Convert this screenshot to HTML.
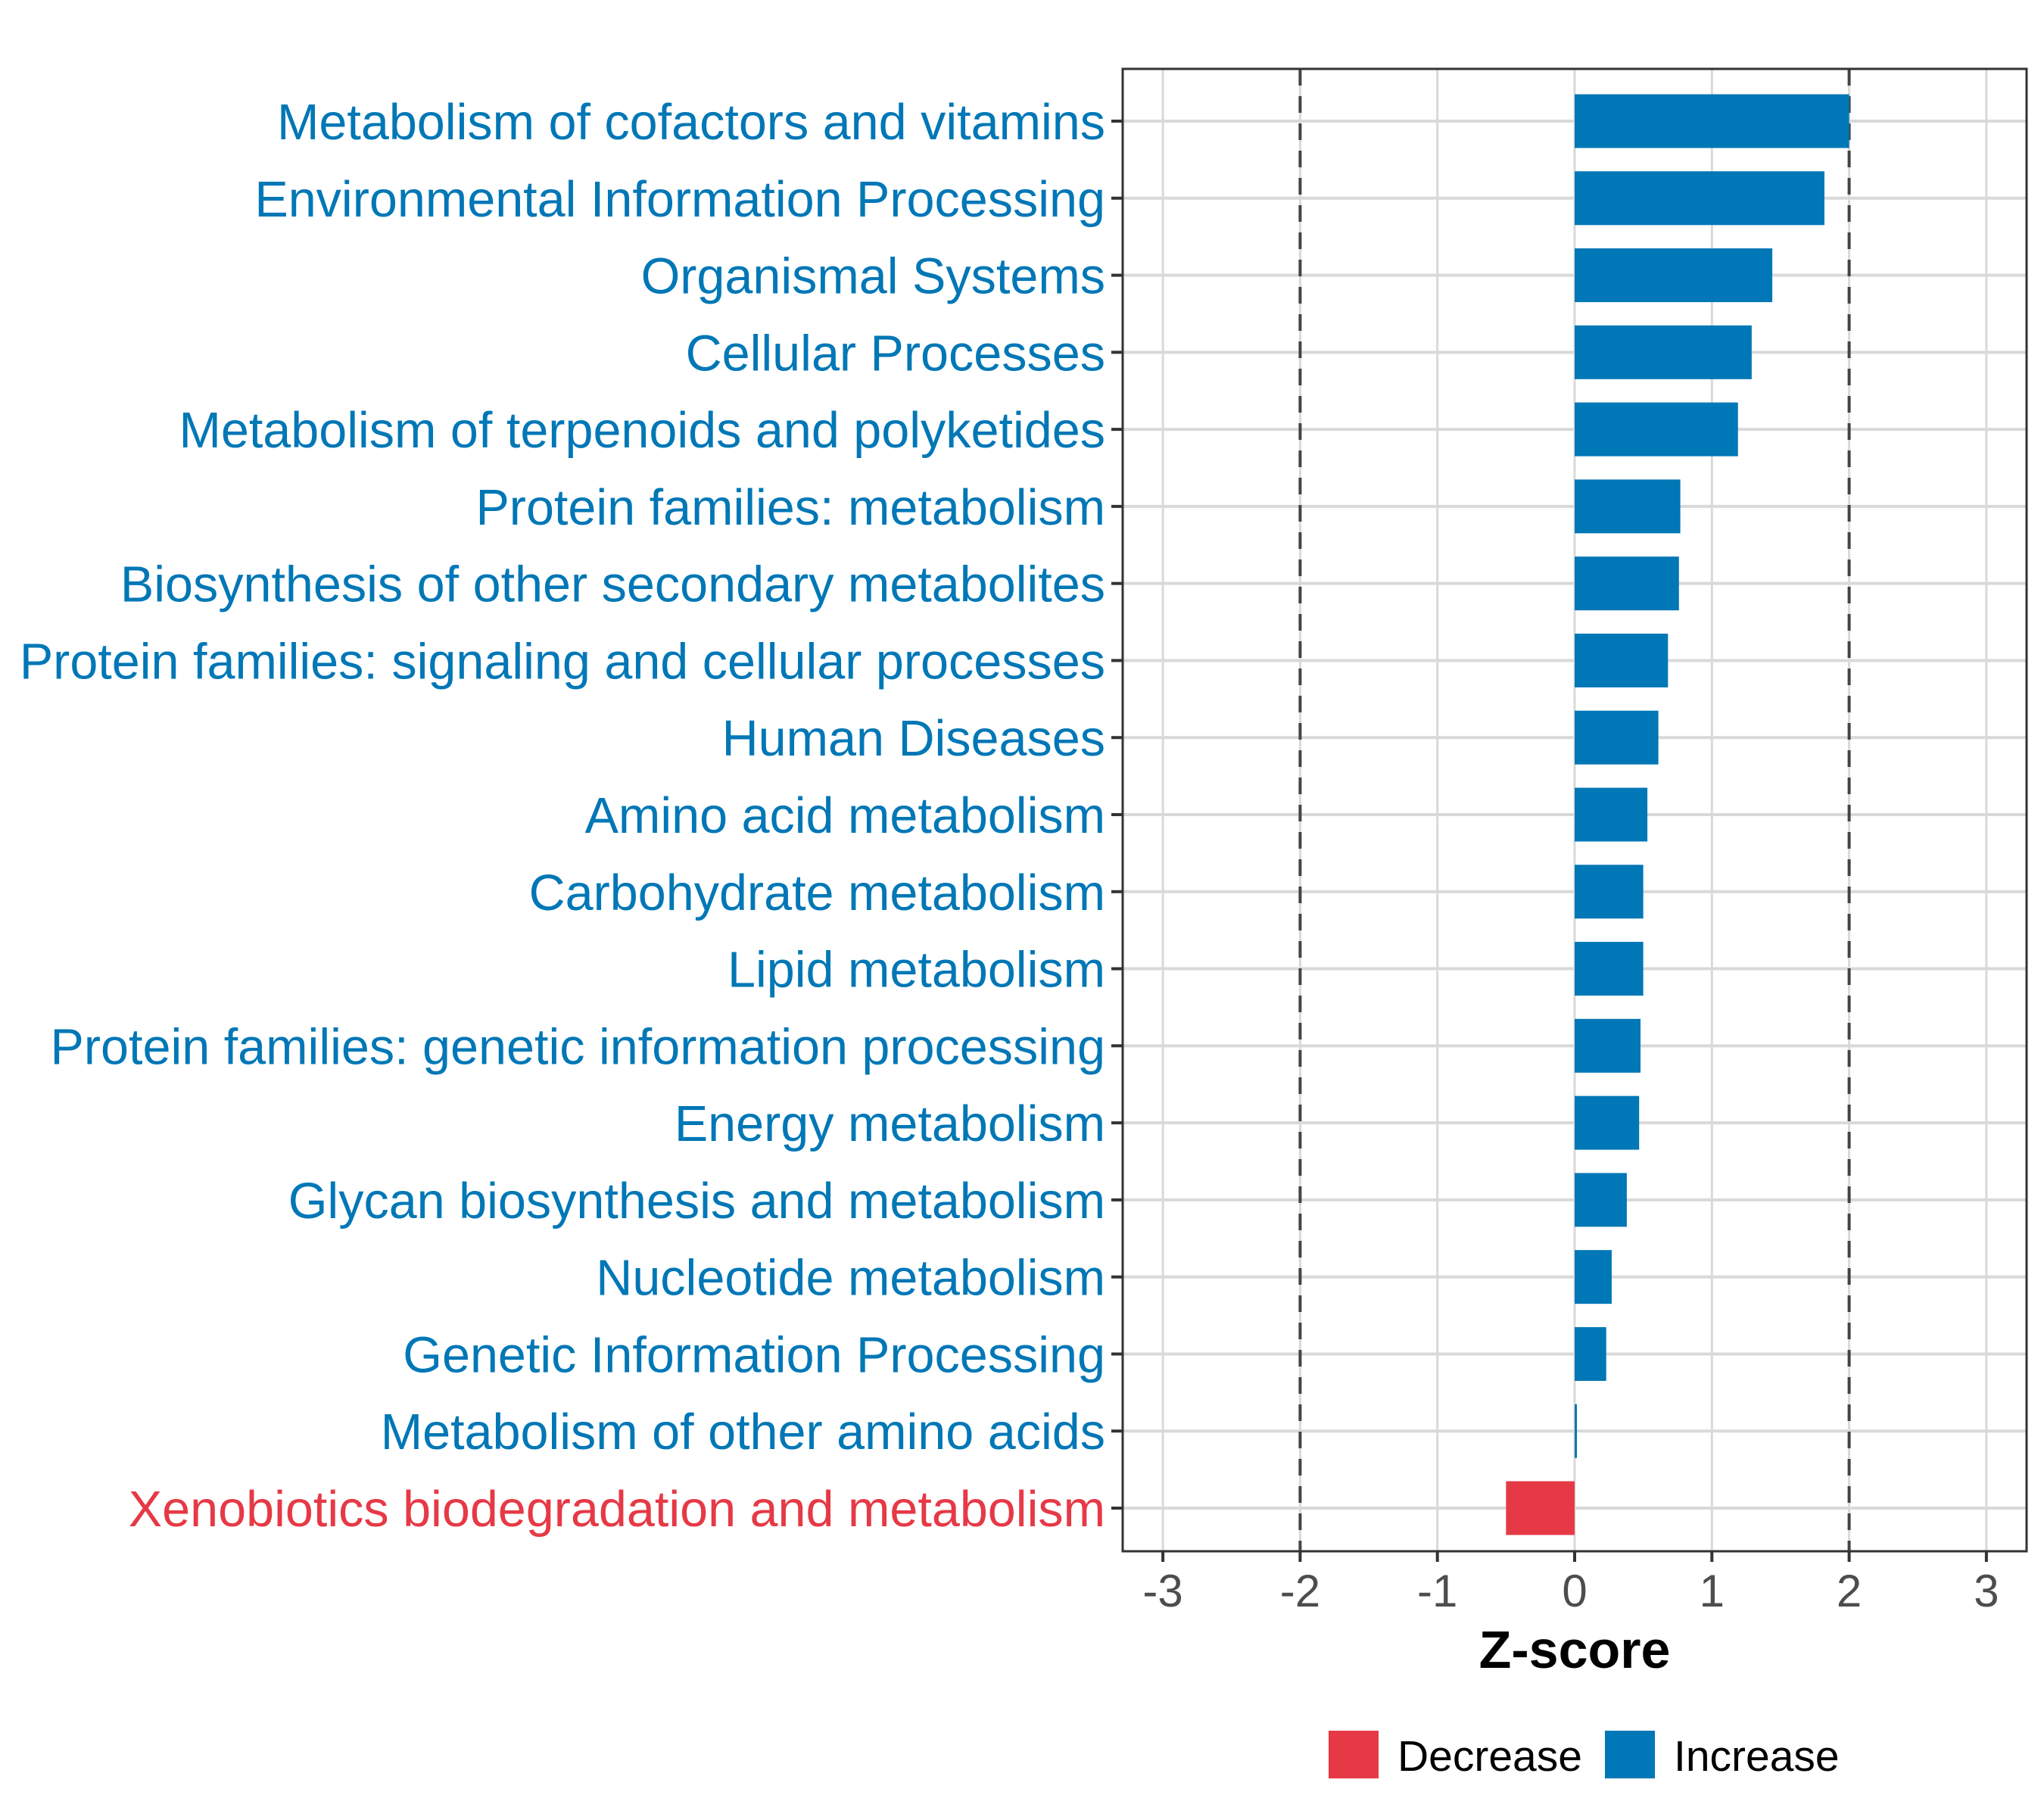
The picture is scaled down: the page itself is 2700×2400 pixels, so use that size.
<!DOCTYPE html>
<html><head><meta charset="utf-8"><style>body{margin:0;background:#fff}svg{display:block}text{font-family:"Liberation Sans",sans-serif}</style></head>
<body>
<svg id="chart" width="2700" height="2400" xmlns="http://www.w3.org/2000/svg">
<rect width="2700" height="2400" fill="#fff"/>
<g id="grid"></g><g id="bars"></g><g id="axes"></g>
<text x="2080" y="2203" font-size="70" font-weight="bold" text-anchor="middle" fill="#000">Z-score</text>
<g>
<rect x="1755" y="2286" width="66" height="63" fill="#E63946"/>
<text x="1846" y="2339" font-size="57" fill="#000">Decrease</text>
<rect x="2120" y="2286" width="66" height="63" fill="#0077B6"/>
<text x="2211" y="2339" font-size="57" fill="#000">Increase</text>
</g>
</svg>
<script>
const categories=["Metabolism of cofactors and vitamins","Environmental Information Processing","Organismal Systems","Cellular Processes","Metabolism of terpenoids and polyketides","Protein families: metabolism","Biosynthesis of other secondary metabolites","Protein families: signaling and cellular processes","Human Diseases","Amino acid metabolism","Carbohydrate metabolism","Lipid metabolism","Protein families: genetic information processing","Energy metabolism","Glycan biosynthesis and metabolism","Nucleotide metabolism","Genetic Information Processing","Metabolism of other amino acids","Xenobiotics biodegradation and metabolism"];
const zscores=[2.0,1.82,1.44,1.29,1.19,0.77,0.76,0.68,0.61,0.53,0.50,0.50,0.48,0.47,0.38,0.27,0.23,0.01,-0.50];
const xTicks=[-3,-2,-1,0,1,2,3];
const thresholds=[-2,2];
const NS="http://www.w3.org/2000/svg";
const L=1483,R=2677,T=91,B=2049;
const xs=v=>2080+v*181.3;
const ys=i=>160+i*((1992-160)/(categories.length-1));
const bh=71;
function mk(t,a,p){const e=document.createElementNS(NS,t);for(const k in a)e.setAttribute(k,a[k]);p.appendChild(e);return e;}
const grid=document.getElementById('grid'),bars=document.getElementById('bars'),axes=document.getElementById('axes');
xTicks.forEach(v=>{const l=mk('line',{x1:xs(v),x2:xs(v),y1:T,y2:B,stroke:'#d9d9d9','stroke-width':3},grid);

});
categories.forEach((c,i)=>{const l=mk('line',{x1:L,x2:R,y1:ys(i),y2:ys(i),stroke:'#d9d9d9','stroke-width':4},grid);

});
thresholds.forEach(v=>{const l=mk('line',{x1:xs(v),x2:xs(v),y1:T,y2:B,stroke:'#444','stroke-width':4,'stroke-dasharray':'22,14'},grid);

});
categories.forEach((c,i)=>{const v=zscores[i];const col=v<0?'#E63946':'#0077B6';
const x=Math.min(xs(0),xs(v)),w=Math.max(Math.abs(xs(v)-xs(0)),3);
const r=mk('rect',{x:x,y:ys(i)-bh/2,width:w,height:bh,fill:col},bars);


const t=mk('text',{x:1460,y:ys(i)+24,'font-size':66.5,'text-anchor':'end',fill:col},axes);t.textContent=c;


const tk=mk('line',{x1:1468,x2:L,y1:ys(i),y2:ys(i),stroke:'#333','stroke-width':4},axes);

});
xTicks.forEach(v=>{const tk=mk('line',{x1:xs(v),x2:xs(v),y1:B,y2:B+14,stroke:'#333','stroke-width':4},axes);


const t=mk('text',{x:xs(v),y:2122,'font-size':60,'text-anchor':'middle',fill:'#4d4d4d'},axes);t.textContent=v;

});
const p=mk('rect',{x:L,y:T,width:R-L,height:B-T,fill:'none',stroke:'#333','stroke-width':3},axes);


</script>
</body></html>
